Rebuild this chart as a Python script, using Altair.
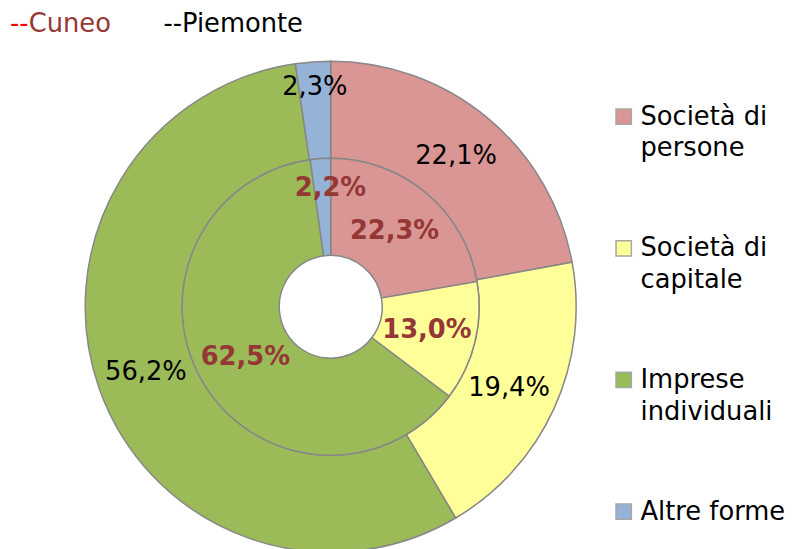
import math
import altair as alt
import pandas as pd

categories = ["Società di persone", "Società di capitale", "Imprese individuali", "Altre forme"]
legend_line1 = ["Società di", "Società di", "Imprese", "Altre forme"]
legend_line2 = ["persone", "capitale", "individuali", ""]
cuneo = [22.3, 13.0, 62.5, 2.2]
piemonte = [22.1, 19.4, 56.2, 2.3]
colors = ["#DA9694", "#FFFF99", "#9BBB59", "#95B3D7"]

def fmt(v):
    return f"{v:.1f}".replace(".", ",") + "%"

df_in = pd.DataFrame({"cat": categories, "value": cuneo, "idx": range(4),
                      "label": [fmt(v) for v in cuneo]})
df_out = pd.DataFrame({"cat": categories, "value": piemonte, "idx": range(4),
                       "label": [fmt(v) for v in piemonte]})
df_leg = pd.DataFrame({"cat": categories, "l1": legend_line1, "l2": legend_line2})

CX, CY = 326, 299
R0, R1, R2 = 52, 150, 248
FONT = "DejaVu Sans"

theta_scale = alt.Scale(domain=[0, 100], range=[0, 2 * math.pi])
color = alt.Color("cat:N", scale=alt.Scale(domain=categories, range=colors), legend=None)


def ring(df, r_in, r_out):
    return alt.Chart(df).mark_arc(radius=r_out, radius2=r_in, stroke="#878787",
                                  strokeWidth=1.5).encode(
        theta=alt.Theta("value:Q", stack=True, scale=theta_scale),
        color=color,
        order=alt.Order("idx:Q"),
        x=alt.value(CX), y=alt.value(CY),
    )


def labels(df, big, radius, **style):
    base = alt.Chart(df).transform_window(
        cum="sum(value)", sort=[alt.SortField("idx")]
    ).transform_calculate(mid="datum.cum - datum.value/2")
    if big:
        base = base.transform_filter("datum.value > 5")
    else:
        base = base.transform_filter("datum.value <= 5")
    return base.mark_text(radius=radius, font=FONT, fontSize=26, **style).encode(
        theta=alt.Theta("mid:Q", scale=theta_scale),
        text="label:N",
        x=alt.value(CX), y=alt.value(CY),
    )


inner = ring(df_in, R0, R1)
outer = ring(df_out, R1, R2)

lab_in = labels(df_in, True, 100, fontWeight="bold", color="#953735")
lab_in_s = labels(df_in, False, 120, fontWeight="bold", color="#953735", dx=8)
lab_out = labels(df_out, True, 198, color="black")
lab_out_s = labels(df_out, False, 222, color="black")

leg_y = alt.Y("cat:N", scale=alt.Scale(domain=categories, range=[107, 506], padding=0), axis=None)
leg_sym = alt.Chart(df_leg).mark_square(size=240, stroke="#a6a6a6", strokeWidth=1.5,
                                        opacity=1).encode(
    x=alt.value(622), y=leg_y, color=color)
leg_t1 = alt.Chart(df_leg).mark_text(align="left", baseline="middle", font=FONT,
                                     fontSize=26, color="black").encode(
    x=alt.value(639), y=leg_y, text="l1:N")
leg_t2 = alt.Chart(df_leg).mark_text(align="left", baseline="middle", font=FONT,
                                     fontSize=26, color="black", dy=32).encode(
    x=alt.value(639), y=leg_y, text="l2:N")

title_df = pd.DataFrame({"a": [0]})
t_dash = alt.Chart(title_df).mark_text(text="--", align="left", baseline="middle", font=FONT,
                                       fontSize=26, color="#FF0000").encode(
    x=alt.value(2), y=alt.value(13))
t_cuneo = alt.Chart(title_df).mark_text(text="Cuneo", align="left", baseline="middle", font=FONT,
                                        fontSize=26, color="#953735").encode(
    x=alt.value(21), y=alt.value(13))
t_piem = alt.Chart(title_df).mark_text(text="--Piemonte", align="left", baseline="middle", font=FONT,
                                       fontSize=26, color="black").encode(
    x=alt.value(157), y=alt.value(13))

chart = alt.layer(
    outer, inner, lab_out, lab_out_s, lab_in, lab_in_s,
    leg_sym, leg_t1, leg_t2, t_dash, t_cuneo, t_piem
).resolve_scale(theta="independent", y="independent").properties(
    width=788, height=541, padding=0, autosize=alt.AutoSizeParams(type="none")
).configure_view(stroke=None)

chart.save("out.html", embed_options={"renderer": "svg", "actions": False})
